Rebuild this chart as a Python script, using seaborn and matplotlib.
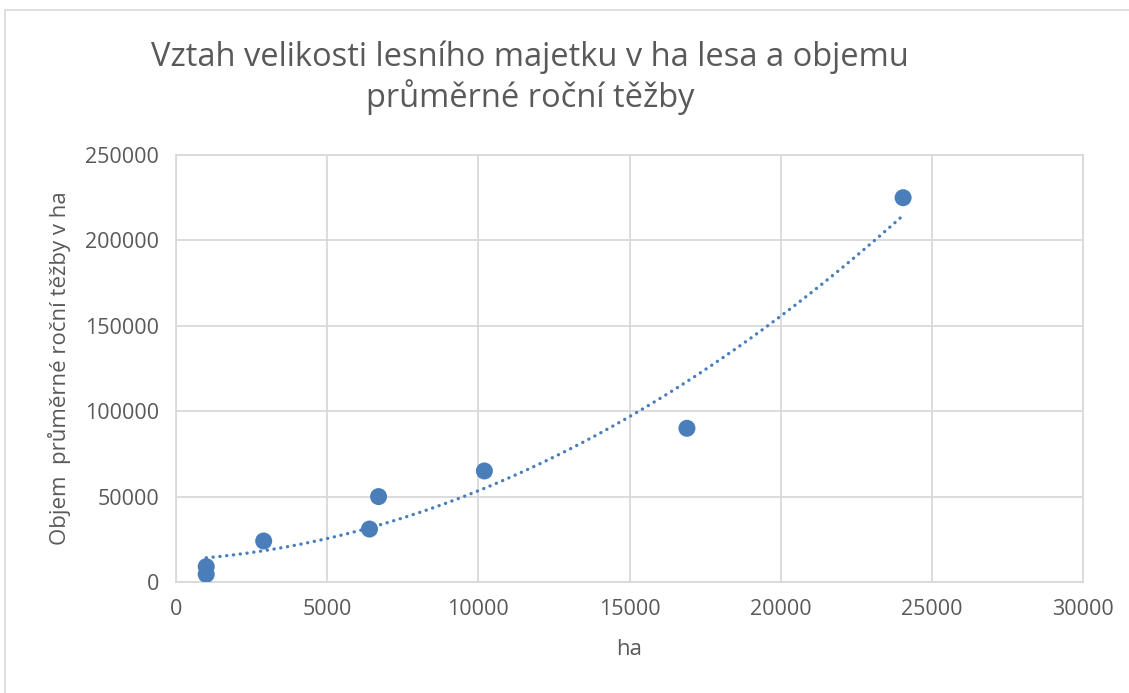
import numpy as np
import pandas as pd
import seaborn as sns
import matplotlib.pyplot as plt
from matplotlib.patches import Rectangle

# values
ha = [1000, 1000, 2900, 6400, 6700, 10200, 16900, 24050]
tezba = [9000, 4500, 24000, 31000, 50000, 65000, 90000, 225000]

x_ticks = [0, 5000, 10000, 15000, 20000, 25000, 30000]
y_ticks = [0, 50000, 100000, 150000, 200000, 250000]

title = "Vztah velikosti lesního majetku v ha lesa a objemu\nprůměrné roční těžby"
x_label = "ha"
y_label = "Objem  průměrné roční těžby v ha"

sns.set_theme(style="white")
plt.rcParams['font.family'] = ['Open Sans', 'DejaVu Sans']

blue = "#4a7ebb"
grey_txt = "#595959"
grid_col = "#d9d9d9"

df = pd.DataFrame({"ha": ha, "tezba": tezba})

fig = plt.figure(figsize=(11.29, 6.93), dpi=100)
ax = fig.add_axes([176 / 1129, 1 - 582 / 693, (1083 - 176) / 1129, (582 - 155) / 693])

# trendline (2nd order polynomial fit of the points)
coef = np.polyfit(df["ha"], df["tezba"], 2)
xs = np.linspace(df["ha"].min(), df["ha"].max(), 200)
ax.plot(xs, np.polyval(coef, xs), color=blue, lw=2.4,
        linestyle=(0, (0.05, 2.0)), dash_capstyle="round", zorder=2)

sns.scatterplot(data=df, x="ha", y="tezba", ax=ax, color=blue, s=150,
                edgecolor="none", zorder=3)

ax.set_xlim(0, 30000)
ax.set_ylim(0, 250000)
ax.set_xticks(x_ticks)
ax.set_yticks(y_ticks)
ax.set_xticklabels([str(t) for t in x_ticks])
ax.set_yticklabels([str(t) for t in y_ticks])
ax.grid(True, color=grid_col, lw=1.3)
for s in ax.spines.values():
    s.set_color(grid_col)
    s.set_linewidth(1.3)
ax.tick_params(colors=grey_txt, labelsize=15.5, length=0, pad=12)
ax.set_xlabel(x_label, color=grey_txt, fontsize=16, labelpad=14)
ax.set_ylabel(y_label, color=grey_txt, fontsize=16, labelpad=10)

fig.text(530 / 1129, 1 - 78 / 693, title, ha="center", va="center",
         fontsize=23.5, color=grey_txt, linespacing=1.2)

# chart area border
fig.patches.append(Rectangle((5 / 1129, -0.01), 1.02, 1 - 10 / 693 + 0.01,
                             transform=fig.transFigure, fill=False,
                             edgecolor="#d9d9d9", lw=1.2))

fig.savefig("out.png", dpi=100)
